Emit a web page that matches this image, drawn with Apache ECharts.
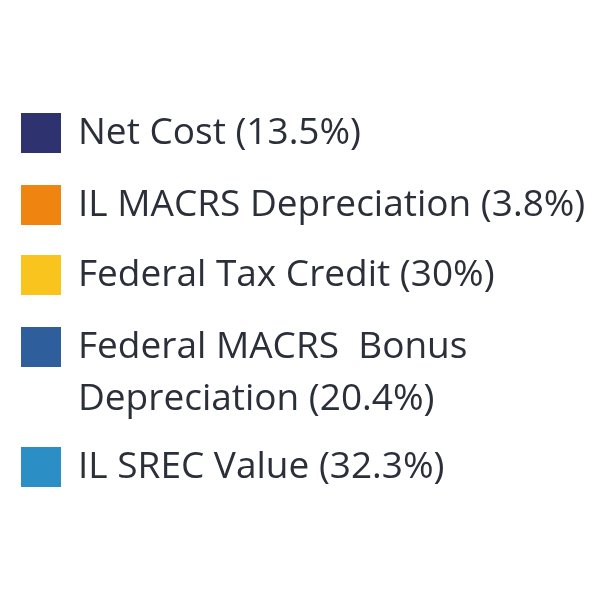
<!DOCTYPE html>
<html>
<head>
<meta charset="utf-8">
<script src="https://cdn.jsdelivr.net/npm/echarts@6/dist/echarts.min.js"></script>
<style>
  html, body { margin: 0; padding: 0; background: #fff; }
  #main { width: 600px; height: 600px; }
</style>
</head>
<body>
<div id="main"></div>
<script>
// 数据
const names = ['Net Cost', 'IL MACRS Depreciation', 'Federal Tax Credit', 'Federal MACRS  Bonus\nDepreciation', 'IL SREC Value'];
const values = [13.5, 3.8, 30, 20.4, 32.3];
const colors = ['#2e3370', '#ef8510', '#f9c41e', '#2f5e9d', '#2b8ec4'];

// 图例位置 (方块顶部)
const iconTops = [113, 185, 255, 327, 447];
const lineH = 52;

const chart = echarts.init(document.getElementById('main'));

const labels = names.map((n, i) => n + ' (' + values[i] + '%)');

chart.setOption({
    animation: false,
    color: colors,
    legend: labels.map((lab, i) => {
        const n = lab.split('\n').length;
        // 多行时前面补空行, 让第一行跟方块对齐
        const lines = 2 * n - 1;
        const boxTop = 20 - lineH * lines / 2;
        return {
            orient: 'vertical',
            left: 21,
            top: iconTops[i] + Math.min(0, boxTop),
            padding: 0,
            itemWidth: 40,
            itemHeight: 40,
            itemGap: 0,
            icon: 'rect',
            selectedMode: false,
            data: [lab],
            formatter: name => '\n'.repeat(n - 1) + name,
            textStyle: {
                fontFamily: 'Open Sans',
                fontSize: 37,
                color: '#2b2f3a',
                lineHeight: lineH,
                padding: [0, 0, 0, 12]
            }
        };
    }),
    series: [{
        type: 'pie',
        radius: [0, 0],
        center: [-100, -100],
        label: { show: false },
        labelLine: { show: false },
        silent: true,
        data: labels.map((lab, i) => ({ name: lab, value: values[i] }))
    }]
});
</script>
</body>
</html>
